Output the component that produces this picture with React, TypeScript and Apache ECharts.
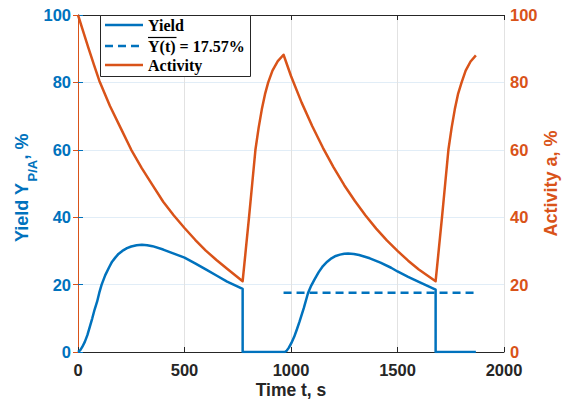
import React, { useEffect, useRef } from "react";
import * as echarts from "echarts";

// ---- data ----
const timeTicks = [0, 500, 1000, 1500, 2000];

const yieldT = [0, 10, 20, 32, 44, 55, 67, 78, 90, 100, 111, 128, 145, 160, 175, 190, 208, 230, 250, 275, 300, 325, 350, 400, 450, 500, 550, 600, 650, 700, 773, 773,
  971, 980, 990, 1002, 1015, 1027, 1040, 1060, 1080, 1095, 1110, 1130, 1150, 1170, 1190, 1210, 1230, 1250, 1268, 1295, 1320, 1370, 1420, 1470, 1500, 1550, 1600, 1679, 1679, 1868];
const yieldV = [0, 0.5, 1.5, 3, 5, 7.4, 10, 12.6, 15, 17.6, 20, 22.8, 25, 26.8, 28, 29.1, 30, 30.8, 31.3, 31.7, 31.8, 31.7, 31.4, 30.4, 29.2, 28.0, 26.3, 24.5, 22.7, 20.9, 18.7, 0,
  0, 0.4, 1.3, 2.7, 4.5, 6.6, 9, 13, 17.5, 19.7, 21.5, 23.7, 25.5, 26.8, 27.8, 28.5, 28.9, 29.15, 29.2, 29.1, 28.8, 27.8, 26.5, 25.0, 23.9, 22.3, 20.8, 18.5, 0, 0];

const meanT = [965, 1870];
const meanYield = 17.57;

const activityT = [0, 25, 50, 75, 100, 150, 200, 250, 300, 350, 400, 450, 500, 550, 600, 650, 700, 773,
  788, 803, 818, 833, 848, 863, 878, 893, 913, 938, 965,
  1000, 1050, 1100, 1150, 1200, 1250, 1300, 1350, 1400, 1450, 1500, 1550, 1600, 1679,
  1694, 1709, 1724, 1739, 1754, 1769, 1784, 1801, 1820, 1843, 1868];
const activityV = [100, 95, 90, 85.2, 80.5, 73, 66.5, 60, 54.5, 49.5, 44.6, 40.5, 36.8, 33.3, 30.1, 27.3, 24.7, 21.0,
  30.5, 40, 50, 60, 66.5, 72, 76.5, 80, 83.5, 86.3, 88.2,
  81.9, 74.0, 67.0, 60.6, 54.8, 49.5, 44.8, 40.5, 36.6, 33.1, 30.0, 27.1, 24.5, 21.0,
  30.5, 40, 50, 60, 66.5, 72, 76.5, 80, 83.5, 86.2, 88.0];

const BLUE = "#0072BD";
const ORANGE = "#D95319";
const DARK = "#262626";
const FONT = "'Liberation Sans', Arial, Helvetica, sans-serif";
const SERIF = "'Liberation Serif', 'Times New Roman', serif";

export default function App() {
  const ref = useRef<HTMLDivElement>(null);
  useEffect(() => {
    if (!ref.current) return;
    const chart = echarts.init(ref.current, undefined, { renderer: "svg" });
    const yieldData = yieldT.map((t, i) => [t, yieldV[i]]);
    const meanData = meanT.map((t) => [t, meanYield]);
    const actData = activityT.map((t, i) => [t, activityV[i]]);

    const axisLabel = (color: string, margin: number) => ({
      color, fontWeight: "bold" as const, fontSize: 16.5, fontFamily: FONT, margin,
      formatter: (v: number) => String(v),
    });

    chart.setOption({
      animation: false,
      backgroundColor: "#fff",
      grid: { left: 78, right: 58, top: 15, bottom: 53, containLabel: false },
      xAxis: [
        {
          type: "value", min: timeTicks[0], max: timeTicks[timeTicks.length - 1], interval: 500,
          position: "bottom",
          axisLine: { show: true, onZero: false, lineStyle: { color: DARK, width: 1 } },
          axisTick: { show: true, inside: true, length: 5, lineStyle: { color: DARK } },
          axisLabel: axisLabel(DARK, 9),
          splitLine: { show: true, lineStyle: { color: "#e2e2e2", width: 1 } },
        },
        {
          type: "value", min: 0, max: 2000, interval: 500, position: "top",
          axisLine: { show: true, onZero: false, lineStyle: { color: DARK, width: 1 } },
          axisTick: { show: true, inside: true, length: 5, lineStyle: { color: DARK } },
          axisLabel: { show: false },
          splitLine: { show: false },
        },
      ],
      yAxis: [
        {
          type: "value", min: 0, max: 100, interval: 20, position: "left",
          axisLine: { show: true, lineStyle: { color: BLUE, width: 1 } },
          axisTick: { show: true, inside: true, length: 5, lineStyle: { color: BLUE } },
          axisLabel: axisLabel(BLUE, 7),
          splitLine: { show: true, lineStyle: { color: "#e1edf7", width: 1 } },
        },
        {
          type: "value", min: 0, max: 100, interval: 20, position: "right",
          axisLine: { show: true, lineStyle: { color: ORANGE, width: 1 } },
          axisTick: { show: true, inside: true, length: 5, lineStyle: { color: ORANGE } },
          axisLabel: axisLabel(ORANGE, 6),
          splitLine: { show: false },
        },
      ],
      series: [
        {
          type: "line", name: "Yield", xAxisIndex: 0, yAxisIndex: 0, data: yieldData,
          showSymbol: false, symbol: "none", smooth: false,
          lineStyle: { color: BLUE, width: 2.5, join: "round" }, itemStyle: { color: BLUE }, z: 3,
        },
        {
          type: "line", name: "mean", xAxisIndex: 0, yAxisIndex: 0, data: meanData,
          showSymbol: false, symbol: "none",
          lineStyle: { color: BLUE, width: 2.5, type: [8, 5] }, itemStyle: { color: BLUE }, z: 3,
        },
        {
          type: "line", name: "Activity", xAxisIndex: 0, yAxisIndex: 1, data: actData,
          showSymbol: false, symbol: "none",
          lineStyle: { color: ORANGE, width: 2.5, join: "round" }, itemStyle: { color: ORANGE }, z: 3,
        },
      ],
      graphic: [
        // x axis title
        {
          type: "text", x: 291, y: 390, z: 10,
          style: { text: "Time t, s", font: `bold 17.5px ${FONT}`, fill: DARK, align: "center", verticalAlign: "middle" },
        },
        // left axis title with subscript
        {
          type: "text", x: 21.5, y: 242, rotation: Math.PI / 2, z: 10,
          style: { text: "Yield Y", font: `bold 18px ${FONT}`, fill: BLUE, align: "left", verticalAlign: "middle" },
        },
        {
          type: "text", x: 32.5, y: 181.5, rotation: Math.PI / 2, z: 10,
          style: { text: "P/A", font: `bold 13px ${FONT}`, fill: BLUE, align: "left", verticalAlign: "middle" },
        },
        {
          type: "text", x: 21.5, y: 159.5, rotation: Math.PI / 2, z: 10,
          style: { text: ", %", font: `bold 18px ${FONT}`, fill: BLUE, align: "left", verticalAlign: "middle" },
        },
        // right axis title
        {
          type: "text", x: 550.5, y: 183.5, rotation: Math.PI / 2, z: 10,
          style: { text: "Activity a, %", font: `bold 18px ${FONT}`, fill: ORANGE, align: "center", verticalAlign: "middle" },
        },
        // legend
        {
          type: "rect", z: 20, shape: { x: 100.5, y: 15.5, width: 150, height: 61 },
          style: { fill: "#fff", stroke: DARK, lineWidth: 1 },
        },
        {
          type: "line", z: 21, shape: { x1: 105, y1: 25, x2: 143, y2: 25 },
          style: { stroke: BLUE, lineWidth: 2.5 },
        },
        {
          type: "line", z: 21, shape: { x1: 105, y1: 46, x2: 143, y2: 46 },
          style: { stroke: BLUE, lineWidth: 2.5, lineDash: [8, 5] },
        },
        {
          type: "line", z: 21, shape: { x1: 105, y1: 65, x2: 143, y2: 65 },
          style: { stroke: ORANGE, lineWidth: 2.5 },
        },
        {
          type: "text", z: 21, x: 148, y: 25,
          style: { text: "Yield", font: `bold 16px ${SERIF}`, fill: "#000", align: "left", verticalAlign: "middle" },
        },
        {
          type: "text", z: 21, x: 148, y: 46,
          style: { text: "Y(t) = 17.57%", font: `bold 16px ${SERIF}`, fill: "#000", align: "left", verticalAlign: "middle" },
        },
        {
          type: "line", z: 21, shape: { x1: 148, y1: 37.5, x2: 176.5, y2: 37.5 },
          style: { stroke: "#000", lineWidth: 1.2 },
        },
        {
          type: "text", z: 21, x: 148, y: 65,
          style: { text: "Activity", font: `bold 16px ${SERIF}`, fill: "#000", align: "left", verticalAlign: "middle" },
        },
      ],
    });
    return () => chart.dispose();
  }, []);

  return <div ref={ref} style={{ width: 562, height: 405, position: "absolute", left: 0, top: 0 }} />;
}
